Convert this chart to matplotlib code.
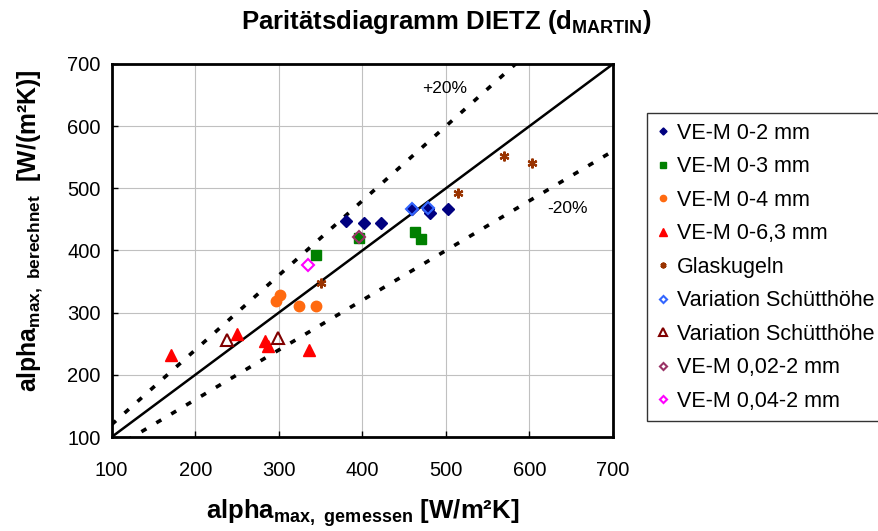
import numpy as np
import matplotlib; matplotlib.use("Agg")
import matplotlib.pyplot as plt

plt.rcParams["font.family"] = ["Liberation Sans", "DejaVu Sans"]
plt.rcParams["mathtext.fontset"] = "custom"
plt.rcParams["mathtext.rm"] = "Liberation Sans"
plt.rcParams["mathtext.bf"] = "Liberation Sans:bold"

ve02_x = [380, 402, 422, 460, 478, 481, 502]
ve02_y = [447, 445, 445, 466, 467, 460, 467]
ve03_x = [396, 344, 463, 470]
ve03_y = [420, 392, 430, 419]
ve04_x = [302, 297, 324, 344]
ve04_y = [329, 318, 311, 311]
ve063_x = [171, 250, 284, 287, 336]
ve063_y = [232, 265, 254, 247, 240]
glas_x = [570, 603, 515, 350]
glas_y = [552, 541, 492, 347]
varh1_x = [460, 478]
varh1_y = [467, 468]
varh2_x = [238, 299]
varh2_y = [256, 260]
ve0022_x = [396]
ve0022_y = [421]
ve0042_x = [335]
ve0042_y = [377]

line_x = [100, 700]
ticks = [100, 200, 300, 400, 500, 600, 700]

fig = plt.figure(figsize=(8.79, 5.31), dpi=100)
ax = fig.add_axes([0.127, 0.177, 0.5704, 0.7025])

ax.grid(True, color="#c0c0c0", lw=0.8, zorder=0)
dots = (0, (1.6, 3.2))
ax.plot(line_x, line_x, color="black", lw=1.8, zorder=2)
ax.plot(line_x, [1.2 * v for v in line_x], color="black", lw=2.6, ls=dots, zorder=2)
ax.plot(line_x, [0.8 * v for v in line_x], color="black", lw=2.6, ls=dots, zorder=2)

kw = dict(ls="none", zorder=3)
ax.plot(ve02_x, ve02_y, marker="D", ms=6, color="#000080", label="VE-M 0-2 mm", **kw)
ax.plot(ve03_x, ve03_y, marker="s", ms=7, color="#008000", label="VE-M 0-3 mm", **kw)
ax.plot(ve04_x, ve04_y, marker="o", ms=7.5, color="#ff6a10", label="VE-M 0-4 mm", **kw)
ax.plot(ve063_x, ve063_y, marker="^", ms=9, color="#ff0000", label="VE-M 0-6,3 mm", **kw)
ax.plot(glas_x, glas_y, marker=(6, 2, 0), ms=7, mew=1.6, color="#993300", label="Glaskugeln", **kw)
ax.plot(varh1_x, varh1_y, marker="D", ms=6, mfc="none", mew=1.5, color="#3366ff", label="Variation Schütthöhe", **kw)
ax.plot(varh2_x, varh2_y, marker="^", ms=9, mfc="none", mew=1.5, color="#800000", label="Variation Schütthöhe", **kw)
ax.plot(ve0022_x, ve0022_y, marker="D", ms=6, mfc="none", mew=1.5, color="#993366", label="VE-M 0,02-2 mm", **kw)
ax.plot(ve0042_x, ve0042_y, marker="D", ms=6, mfc="none", mew=1.5, color="#ff00ff", label="VE-M 0,04-2 mm", **kw)

ax.set_xlim(100, 700)
ax.set_ylim(100, 700)
ax.set_xticks(ticks)
ax.set_yticks(ticks)
ax.tick_params(direction="in", length=4, width=1, labelsize=14.5)
ax.tick_params(axis="x", pad=17)
ax.tick_params(axis="y", pad=8)
for s in ax.spines.values():
    s.set_linewidth(2)

ax.text(499, 660, "+20%", fontsize=12.5, ha="center", va="center")
ax.text(645, 468, "-20%", fontsize=12.5, ha="center", va="center")

fig.text(0.508, 0.958, r"Paritätsdiagramm DIETZ ($\mathbf{d_{MARTIN}}$)",
         fontsize=18.5, fontweight="bold", ha="center", va="center")
fig.text(363 / 879, 1 - 513 / 531, r"$\mathbf{alpha_{max,\ gemessen}}$ [W/m²K]",
         fontsize=18.5, fontweight="bold", ha="center", va="center")
fig.text(30 / 879, 1 - 231 / 531, r"$\mathbf{alpha_{max,\ berechnet}}$  [W/(m²K)]",
         fontsize=17.8, fontweight="bold", ha="center", va="center", rotation=90)

leg = ax.legend(loc="upper left", bbox_to_anchor=(0.736, 0.787), bbox_transform=fig.transFigure,
                fontsize=15.5, frameon=True, fancybox=False, edgecolor="black", markerscale=0.6,
                handlelength=0.6, handletextpad=0.35, labelspacing=0.58, borderpad=0.45,
                borderaxespad=0)
leg.get_frame().set_linewidth(1)

fig.savefig("out.png", dpi=100)
